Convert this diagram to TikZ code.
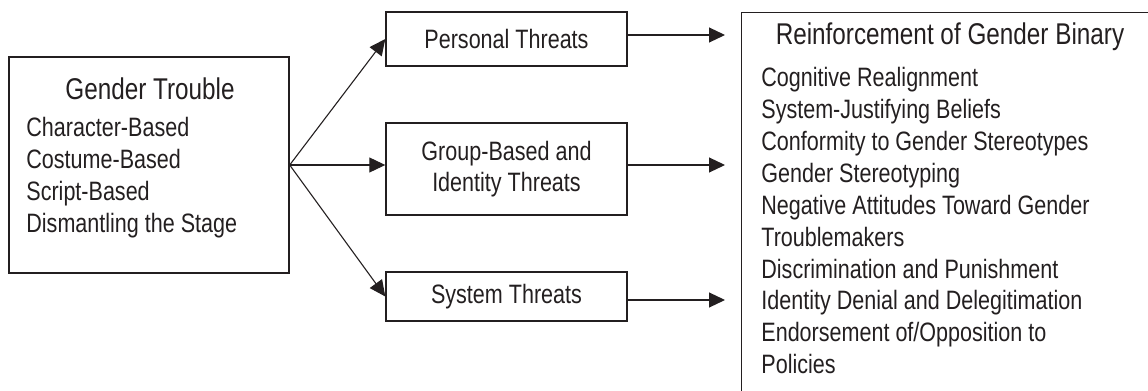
\documentclass[tikz,border=0pt]{standalone}
\usepackage{fontspec}
\setmainfont[FakeStretch=0.81]{Liberation Sans}
\usepackage{xcolor}
\usetikzlibrary{positioning,arrows.meta}
\definecolor{ink}{RGB}{35,31,32}

\begin{document}
\begin{tikzpicture}[x=0.5pt,y=-0.5pt,
	box/.style={draw=ink,line width=0.7pt,inner sep=0pt,text=ink,font=\fontsize{13.3}{15.5}\selectfont,align=center},
	txt/.style={inner sep=0pt,text=ink,font=\fontsize{13.3}{15.95}\selectfont,align=left},
	head/.style={inner sep=0pt,text=ink,font=\fontsize{15}{18}\selectfont},
	arr/.style={draw=ink,line width=0.55pt,-{Triangle[length=8pt,width=7.5pt]}}]
		\useasboundingbox (0,0) rectangle (1148,391);
		\clip (0,0) rectangle (1148,391);
		
		\node[box,minimum width=140pt,minimum height=108pt] (gt) at (149,165) {};
		\node[head] (gtt) at (150,89) {Gender Trouble};
		\node[txt,anchor=north west] (gtl) at (26,117) {Character-Based\\Costume-Based\\Script-Based\\Dismantling the Stage};
		
		\node[box,minimum width=120.5pt,minimum height=27pt] (pt) at (506.5,39) {Personal Threats};
		\node[box,minimum width=120.5pt,minimum height=46pt] (gb) at (506.5,169) {Group-Based and\\Identity Threats};
		\node[box,minimum width=120.5pt,minimum height=24.5pt] (st) at (506.5,296.5) {System Threats};
		
		\node[box,anchor=north west,minimum width=250pt,minimum height=220pt] (rg) at (741,12) {};
		\node[head] (rgt) at (950,37) {Reinforcement of Gender Binary};
		\node[txt,anchor=north west] (rgl) at (761,67) {Cognitive Realignment\\System-Justifying Beliefs\\Conformity to Gender Stereotypes\\Gender Stereotyping\\Negative Attitudes Toward Gender\\Troublemakers\\Discrimination and Punishment\\Identity Denial and Delegitimation\\Endorsement of/Opposition to\\Policies};
		
		\coordinate (fan) at (gt.east);
		\draw[arr] (fan)--(pt.west);
		\draw[arr] (fan)--(fan -| gb.west);
		\draw[arr] (fan)--(st.west);
		
		\coordinate (p1) at (725,35);
		\coordinate (p2) at (725,165);
		\coordinate (p3) at (725,300);
		\draw[arr] (pt.east |- p1)--(p1);
		\draw[arr] (gb.east |- p2)--(p2);
		\draw[arr] (st.east |- p3)--(p3);
	\end{tikzpicture}
\end{document}
